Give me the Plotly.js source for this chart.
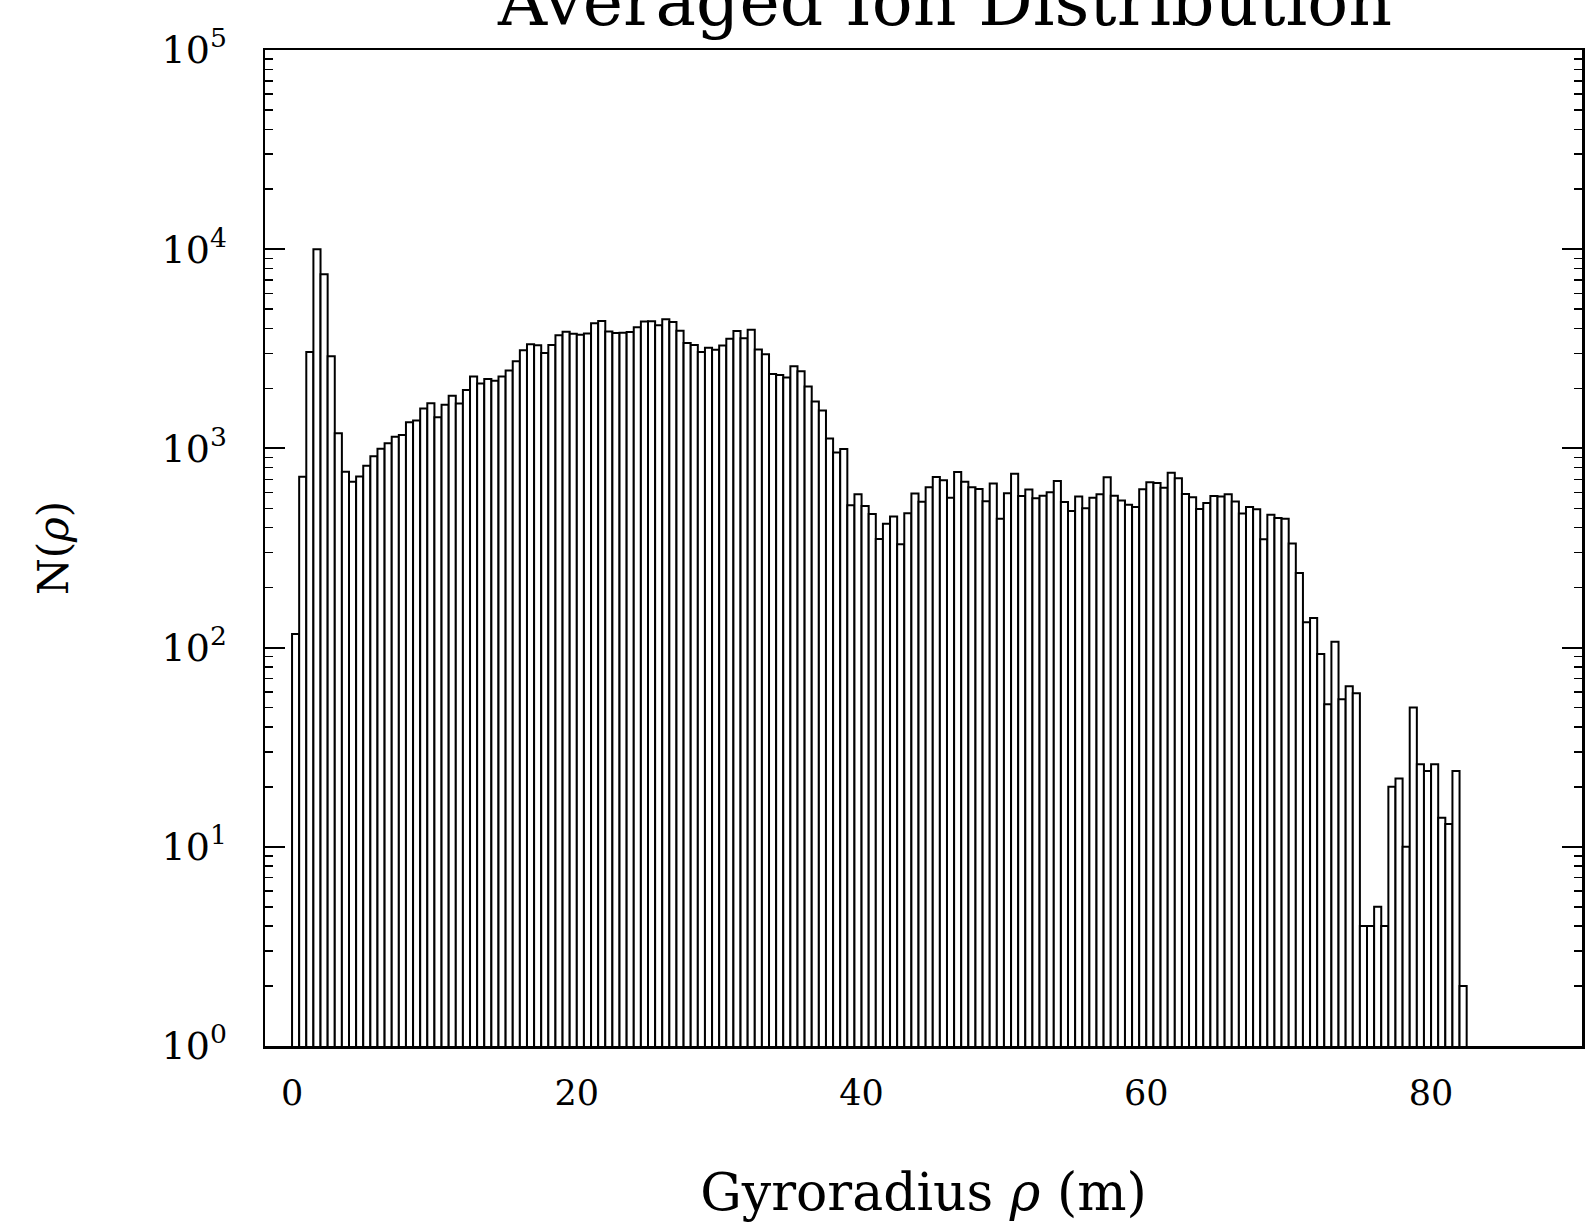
<!DOCTYPE html>
<html>
<head>
<meta charset="utf-8">
<script src="https://cdn.plot.ly/plotly-3.0.1.min.js"></script>
<style>
  html, body { margin: 0; padding: 0; background: #ffffff; }
  #chart { width: 1595px; height: 1225px; }
</style>
</head>
<body>
<div id="chart"></div>
<script>
// Histogram of gyroradius, bins of 0.5 m starting at 0 m
const binStart = 0;
const binWidth = 0.5;
const counts = [
  117, 720, 3050, 10000, 7480, 2900, 1190, 764, 681, 722,
  819, 912, 995, 1060, 1145, 1167, 1352, 1380, 1585, 1683,
  1432, 1655, 1840, 1680, 1963, 2296, 2118, 2228, 2188, 2293,
  2458, 2735, 3110, 3335, 3290, 3015, 3300, 3700, 3855, 3760,
  3720, 3775, 4250, 4365, 3865, 3800, 3810, 3845, 4055, 4335,
  4345, 4155, 4445, 4305, 3900, 3385, 3300, 3045, 3205, 3130,
  3285, 3555, 3880, 3575, 3945, 3135, 2965, 2366, 2337, 2270,
  2582, 2438, 2047, 1722, 1549, 1121, 953, 993, 518, 589,
  514, 468, 351, 418, 455, 330, 472, 593, 540, 638,
  718, 692, 565, 762, 680, 638, 626, 543, 667, 444,
  596, 745, 576, 622, 562, 579, 603, 686, 538, 485,
  573, 501, 565, 588, 716, 578, 547, 522, 508, 624,
  676, 670, 634, 755, 708, 590, 568, 497, 532, 577,
  573, 589, 542, 471, 508, 495, 350, 464, 447, 444,
  333, 237, 134, 141, 93, 52, 107, 55, 64, 59,
  4, 4, 5, 4, 20, 22, 10, 50, 26, 24,
  26, 14, 13, 24, 2
];

const xTickVals = [0, 20, 40, 60, 80];
const xTickText = ['0', '20', '40', '60', '80'];
const yTickVals = [1, 10, 100, 1000, 10000, 100000];
const yTickText = ['10<sup>0</sup>', '10<sup>1</sup>', '10<sup>2</sup>', '10<sup>3</sup>', '10<sup>4</sup>', '10<sup>5</sup>'];
const yMinorVals = [];
for (let d = 1; d < 100000; d *= 10) {
  for (let m = 2; m <= 9; m++) yMinorVals.push(m * d);
}

const titleText = 'Averaged Ion Distribution';
const xTitle = 'Gyroradius <i>ρ</i> (m)';
const yTitle = 'N(<i>ρ</i>)';

const FONT = '"DejaVu Serif", "Liberation Serif", serif';

const trace = {
  type: 'bar',
  y: counts,
  x0: binStart + binWidth / 2,
  dx: binWidth,
  marker: { color: '#ffffff', line: { color: '#000000', width: 2 } },
  hoverinfo: 'x+y'
};

const layout = {
  width: 1595,
  height: 1225,
  paper_bgcolor: '#ffffff',
  plot_bgcolor: '#ffffff',
  margin: { l: 265, r: 13, t: 50, b: 179 },
  bargap: 0,
  showlegend: false,
  font: { family: FONT, color: '#000000', size: 30 },
  title: {
    text: titleText,
    font: { family: FONT, size: 68, color: '#000000' },
    xref: 'container', x: 0.5925, xanchor: 'center',
    yref: 'container', y: 0.999, yanchor: 'middle'
  },
  xaxis: {
    range: [-1.9, 90.6],
    showgrid: false,
    zeroline: false,
    showline: true, linecolor: '#000000', linewidth: 2.5, mirror: true,
    ticks: '',
    tickvals: xTickVals, ticktext: xTickText,
    tickfont: { family: FONT, size: 35, color: '#000000' },
    ticklabelstandoff: 14,
    title: { text: xTitle, font: { family: FONT, size: 52, color: '#000000' }, standoff: 62 }
  },
  yaxis: {
    type: 'log',
    range: [0, 5],
    showgrid: false,
    zeroline: false,
    showline: true, linecolor: '#000000', linewidth: 2.5, mirror: 'allticks',
    ticks: 'inside', ticklen: 20, tickwidth: 2, tickcolor: '#000000',
    tickvals: yTickVals, ticktext: yTickText,
    tickfont: { family: FONT, size: 38, color: '#000000' },
    ticklabelstandoff: 28,
    minor: { ticks: 'inside', ticklen: 8, tickwidth: 1.5, tickcolor: '#000000', tickvals: yMinorVals, showgrid: false },
    title: { text: yTitle, font: { family: FONT, size: 42, color: '#000000' }, standoff: 80 }
  }
};

Plotly.newPlot('chart', [trace], layout, { staticPlot: true, displayModeBar: false });
</script>
</body>
</html>
